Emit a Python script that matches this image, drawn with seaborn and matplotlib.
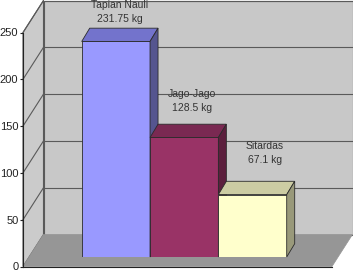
import matplotlib
matplotlib.use("Agg")
import matplotlib.pyplot as plt
from matplotlib.patches import Polygon
import seaborn as sns

# data
locations = ["Tapian Nauli", "Jago-Jago", "Sitardas"]
weights_kg = [231.75, 128.5, 67.1]
bar_colors = ["#9999FF", "#993366", "#FFFFCC"]
top_colors = ["#7373CC", "#7A2952", "#CCCCA3"]
side_colors = ["#55558F", "#5C1F3D", "#99997A"]
y_ticks = [0, 50, 100, 150, 200, 250]

W, H = 353, 271

sns.set_style("white")
plt.rcParams["font.family"] = ["Liberation Sans", "DejaVu Sans"]

fig = plt.figure(figsize=(W / 100, H / 100), dpi=100)
fig.patch.set_facecolor("white")

# front plane axes: carries the value axis and the walls
ax = fig.add_axes([23 / W, 4.5 / H, 309 / W, 234 / H])
ax.set_xlim(0, 1)
ax.set_ylim(0, 250)
ax.patch.set_visible(False)

# wall depth in pixels -> data units
wall_dx = 20.5 / 309
wall_dy = 32 / 234 * 250

wall_col = "#C8C8C8"
grid_col = "#5a5a5a"

back = Polygon([(wall_dx, wall_dy), (1 + wall_dx, wall_dy),
                (1 + wall_dx, 250 + wall_dy), (wall_dx, 250 + wall_dy)],
               closed=True, facecolor=wall_col, edgecolor=grid_col, lw=0.8,
               clip_on=False, zorder=0)
side = Polygon([(0, 0), (0, 250), (wall_dx, 250 + wall_dy), (wall_dx, wall_dy)],
               closed=True, facecolor="#CBCBCB", edgecolor=grid_col, lw=0.8,
               clip_on=False, zorder=0)
floor = Polygon([(0, 0), (1, 0), (1 + wall_dx, wall_dy), (wall_dx, wall_dy)],
                closed=True, facecolor="#969696", edgecolor="#969696", lw=0.5,
                clip_on=False, zorder=0.5)
for p in (back, side, floor):
    ax.add_patch(p)

for v in y_ticks[1:]:
    ax.plot([wall_dx, 1 + wall_dx], [v + wall_dy, v + wall_dy], color=grid_col,
            lw=0.8, clip_on=False, zorder=0.2)
    ax.plot([0, wall_dx], [v, v + wall_dy], color=grid_col, lw=0.8,
            clip_on=False, zorder=0.2)

ax.set_yticks(y_ticks)
ax.set_yticklabels([str(t) for t in y_ticks], fontsize=8, color="#222222")
ax.set_xticks([])
ax.tick_params(axis="y", length=2.3, width=0.8, pad=1, color="#222222", left=True)
for s in ("top", "right"):
    ax.spines[s].set_visible(False)
for s in ("left", "bottom"):
    ax.spines[s].set_color("#222222")
    ax.spines[s].set_linewidth(0.8)

# bar axes: sits a little deeper than the front plane
ax_b = fig.add_axes([81.7 / W, 14 / H, 205 / W, 232.5 / H])
sns.barplot(x=locations, y=weights_kg, hue=locations, palette=bar_colors,
            width=1, saturation=1, edgecolor="#2b2b2b", linewidth=0.6,
            legend=False, ax=ax_b)
ax_b.set_xlim(-0.5, 2.5)
ax_b.set_ylim(0, 250)
ax_b.axis("off")
ax_b.patch.set_visible(False)

# bar depth in pixels -> data units
bx_px = 205 / 3
by_px = 232.5 / 250
ddx = 8 / bx_px
ddy = 13.3 / by_px

for i, (bar, v) in enumerate(zip(ax_b.patches, weights_kg)):
    z = 2 + i * 3
    bar.set_zorder(z)
    x0 = bar.get_x()
    x1 = x0 + bar.get_width()
    top = Polygon([(x0, v), (x1, v), (x1 + ddx, v + ddy), (x0 + ddx, v + ddy)],
                  closed=True, facecolor=top_colors[i], edgecolor="#2b2b2b",
                  lw=0.6, clip_on=False, zorder=z + 1)
    rside = Polygon([(x1, 0), (x1, v), (x1 + ddx, v + ddy), (x1 + ddx, ddy)],
                    closed=True, facecolor=side_colors[i], edgecolor="#2b2b2b",
                    lw=0.6, clip_on=False, zorder=z + 1)
    ax_b.add_patch(top)
    ax_b.add_patch(rside)
    ax_b.text(i + 0.06 + 0.06 * i, 0.92 * v + 50, f"{locations[i]}\n{v:g} kg",
              ha="center", va="center", fontsize=7.5, color="#333333",
              linespacing=1.5, clip_on=False, zorder=20)

fig.savefig("out.png", dpi=100)
